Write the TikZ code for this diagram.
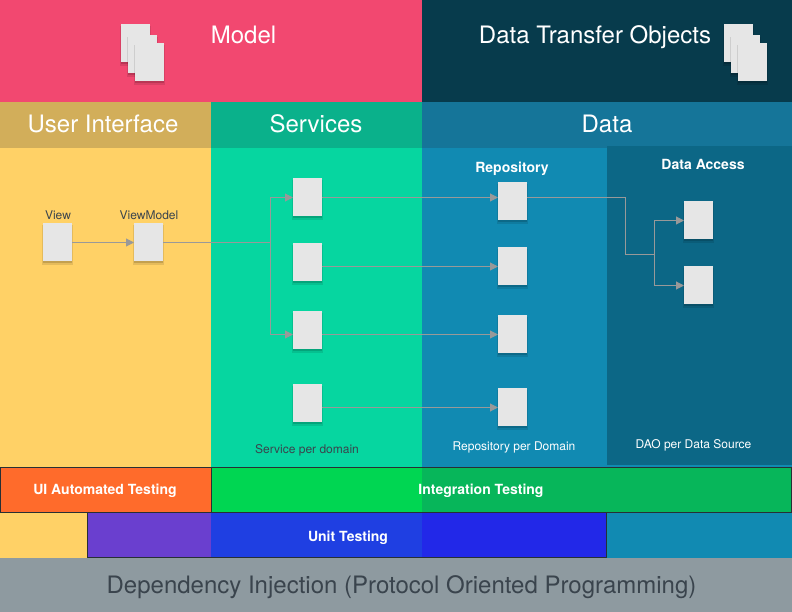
\documentclass[tikz,border=0pt]{standalone}
\usepackage{fontspec}
\setmainfont{TeX Gyre Heros}
\usepackage{xcolor}
\usepackage{tikz}
\usetikzlibrary{positioning,arrows.meta,shadows}
\definecolor{ModelPink}{RGB}{242,72,112}
\definecolor{DtoNavy}{RGB}{7,59,76}
\definecolor{UiYellow}{RGB}{255,209,102}
\definecolor{UiHead}{RGB}{210,174,90}
\definecolor{ServiceGreen}{RGB}{6,214,160}
\definecolor{ServiceHead}{RGB}{10,177,139}
\definecolor{DataBlue}{RGB}{17,138,178}
\definecolor{DataHead}{RGB}{21,117,153}
\definecolor{AccessBlue}{RGB}{12,103,134}
\definecolor{UiTestOrange}{RGB}{255,107,43}
\definecolor{IntegrationGreen}{RGB}{0,214,82}
\definecolor{IntegrationDark}{RGB}{7,182,90}
\definecolor{UnitPurple}{RGB}{106,63,207}
\definecolor{UnitBlue}{RGB}{31,63,226}
\definecolor{UnitDark}{RGB}{34,40,232}
\definecolor{InjectionGray}{RGB}{142,154,160}
\definecolor{InkDark}{RGB}{58,68,77}
\definecolor{EdgeDark}{RGB}{40,47,52}
\definecolor{PageGray}{RGB}{230,230,230}
\definecolor{ArrowGray}{RGB}{153,153,153}

\begin{document}
\begin{tikzpicture}[
    x=1pt,
    y=-1pt,
    >=Stealth,
    node distance=27pt and 60pt,
    region/.style={
        anchor=north west,
        inner sep=0pt,
        outer sep=0pt
    },
    testband/.style={draw=EdgeDark, line width=0.9pt, fill=none, region},
    doc/.style={
        fill=PageGray,
        inner sep=0pt,
        outer sep=0pt,
        minimum width=29pt,
        minimum height=38pt,
        general shadow={shadow xshift=0pt, shadow yshift=-2.5pt, shadow scale=1.05, opacity=0.1, fill=black},
        general shadow={shadow xshift=0pt, shadow yshift=-1.5pt, shadow scale=1.02, opacity=0.14, fill=black}
    },
    headlabel/.style={text=white, font=\fontsize{24}{28}\selectfont},
    smalllabel/.style={text=InkDark, font=\fontsize{12}{14}\selectfont},
    notelabel/.style={text=white, font=\fontsize{12}{14}\selectfont},
    boldlabel/.style={text=white, font=\fontsize{14}{16}\selectfont\bfseries},
    plainlink/.style={line width=1pt, draw=ArrowGray, transform canvas={yshift=-0.5pt}},
    link/.style={plainlink, -{Triangle[length=8pt, width=8pt]}}
]
\useasboundingbox (0,0) rectangle (792,612);

% Top row: model and transfer object areas.
\node[region, fill=ModelPink, minimum width=422pt, minimum height=102pt] (modelarea) at (0,0) {};
\node[region, fill=DtoNavy, minimum width=370pt, minimum height=102pt] (dtoarea) at (422,0) {};

% Layer columns below the top row.
\node[region, fill=UiYellow, minimum width=211pt, minimum height=410pt] (uiarea) at (0,148) {};
\node[region, fill=ServiceGreen, minimum width=211pt, minimum height=410pt] (servicearea) at (211,148) {};
\node[region, fill=DataBlue, minimum width=370pt, minimum height=410pt] (dataarea) at (422,148) {};

% Column headers.
\node[region, fill=UiHead, minimum width=211pt, minimum height=46pt] (uihead) at (0,102) {};
\node[region, fill=ServiceHead, minimum width=211pt, minimum height=46pt] (servicehead) at (211,102) {};
\node[region, fill=DataHead, minimum width=370pt, minimum height=46pt] (datahead) at (422,102) {};

% Data access sits on top of the data column.
\node[region, fill=AccessBlue, minimum width=185pt, minimum height=319pt] (accessarea) at (607,146) {};

% Testing bands: fills first, outlines after.
\node[region, fill=IntegrationGreen, minimum width=211pt, minimum height=45pt] (integrationleft) at (211,467.5) {};
\node[region, fill=IntegrationDark, minimum width=369.5pt, minimum height=45pt] (integrationright) at (422,467.5) {};
\node[region, fill=UnitPurple, minimum width=124pt, minimum height=45pt] (unitleft) at (87,512.5) {};
\node[region, fill=UnitBlue, minimum width=211pt, minimum height=45pt] (unitmiddle) at (211,512.5) {};
\node[region, fill=UnitDark, minimum width=185pt, minimum height=45pt] (unitright) at (422,512.5) {};
\node[testband, minimum width=519.5pt, minimum height=45pt] (unitband) at (87.3,512.5) {};
\node[testband, fill=UiTestOrange, minimum width=210.5pt, minimum height=45pt] (uitestband) at (0.5,467.5) {};
\node[testband, minimum width=580.3pt, minimum height=45pt] (integrationband) at (211,467.5) {};

% Bottom strip.
\node[region, fill=InjectionGray, minimum width=792pt, minimum height=54pt] (injectionarea) at (0,558) {};

% Page stacks in the top row.
\node[doc] (modelpageone) at (135.5,43) {};
\node[doc] (modelpagetwo) at (142.5,54) {};
\node[doc] (modelpagethree) at (149.5,62) {};
\node[doc] (dtopageone) at (738.5,43) {};
\node[doc] (dtopagetwo) at (745.5,54) {};
\node[doc] (dtopagethree) at (752.5,62) {};

% User interface files.
\node[doc] (view) at (57.5,242) {};
\node[doc] (viewmodel) at (148.5,242) {};

% Service files.
\node[doc] (serviceone) at (307.5,197) {};
\node[doc, below=of serviceone] (servicetwo) {};
\node[doc, below=30pt of servicetwo] (servicethree) {};
\node[doc, below=35pt of servicethree] (servicefour) {};

% Repository files.
\node[doc] (repoone) at (512.5,201) {};
\node[doc, below=of repoone] (repotwo) {};
\node[doc, below=30pt of repotwo] (repothree) {};
\node[doc, below=35pt of repothree] (repofour) {};

% Data access files.
\node[doc] (daoone) at (698.5,220) {};
\node[doc, below=of daoone] (daotwo) {};

% Branch points of the connectors.
\coordinate (servicesplit) at (270.5,242);
\coordinate (daosplit) at (654.5,254);
\coordinate (repobend) at (625.5,197);

% View to view model, then out to the services.
\draw[link] (view.east) -- (viewmodel.west);
\draw[plainlink] (viewmodel.east) -- (servicesplit);
\draw[link] (servicesplit) |- (serviceone.west);
\draw[link] (servicesplit) |- (servicethree.west |- repothree.west);

% Services to repositories.
\draw[link] (serviceone.east) -- (serviceone.east -| repoone.west);
\draw[link] (servicetwo.east |- repotwo.west) -- (repotwo.west);
\draw[link] (servicethree.east |- repothree.west) -- (repothree.west);
\draw[link] (servicefour.east |- repofour.west) -- (repofour.west);

% Repository to data access.
\draw[plainlink] (repoone.east |- repobend) -- (repobend) |- (daosplit);
\draw[link] (daosplit) |- (daoone.west);
\draw[link] (daosplit) |- (daotwo.west);

% Large titles.
\node[headlabel] (modeltitle) at (243.5,35) {Model};
\node[headlabel] (dtotitle) at (595,37) {Data Transfer Objects};
\node[headlabel] (uititle) at (103,124) {User Interface};
\node[headlabel] (servicestitle) at (316,124) {Services};
\node[headlabel] (datatitle) at (607,124) {Data};
\node[headlabel, text=InkDark] (injectiontitle) at (401.5,587) {Dependency Injection (Protocol Oriented Programming)};

% Small file labels and notes.
\node[smalllabel] (viewlabel) at (58,215.5) {View};
\node[smalllabel] (viewmodellabel) at (149,215.5) {ViewModel};
\node[boldlabel] (repolabel) at (512,168.5) {Repository};
\node[boldlabel] (accesslabel) at (703,164.5) {Data Access};
\node[smalllabel] (servicenote) at (307,450.5) {Service per domain};
\node[notelabel] (reponote) at (514,447) {Repository per Domain};
\node[notelabel] (daonote) at (693.5,445) {DAO per Data Source};

% Testing band labels.
\node[boldlabel] (uitestlabel) at (105,490.5) {UI Automated Testing};
\node[boldlabel] (integrationlabel) at (481,490.5) {Integration Testing};
\node[boldlabel] (unitlabel) at (348,537.5) {Unit Testing};

\end{tikzpicture}
\end{document}
